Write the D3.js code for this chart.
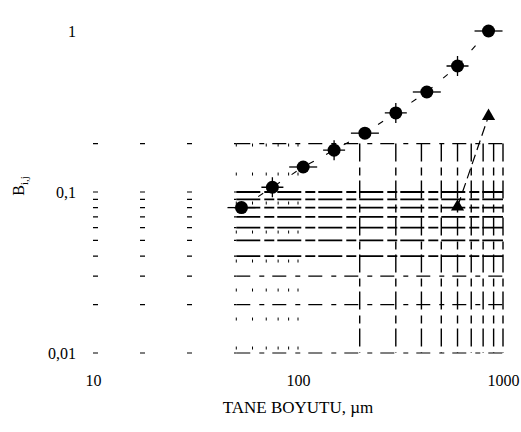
<!DOCTYPE html>
<html>
<head>
<meta charset="utf-8">
<script src="https://cdn.jsdelivr.net/npm/d3@7"></script>
<style>
  body { margin: 0; background: #fff; }
  svg { display: block; font-family: "Liberation Serif", "DejaVu Serif", serif; }
</style>
</head>
<body>
<div id="chart"></div>
<script>
// grain size (µm) and B values
const sizes = [53, 75, 106, 150, 212, 300, 425, 600, 850];
const bValues = [0.080, 0.107, 0.143, 0.182, 0.232, 0.31, 0.418, 0.606, 1.0];
const triSizes = [600, 850];
const triValues = [0.081, 0.296];

const xTicks = [10, 100, 1000];
const xTickLabels = ['10', '100', '1000'];
const yTicks = [0.01, 0.1, 1];
const yTickLabels = ['0,01', '0,1', '1'];

// graph paper lines that survived the scan
const gridX = [10, 20, 30, 40, 50, 60, 70, 80, 90, 100, 200, 300, 400, 500, 600, 700, 800, 900, 1000];
const gridY = [0.01, 0.02, 0.03, 0.04, 0.05, 0.06, 0.07, 0.08, 0.09, 0.1, 0.2];

const svg = d3.select('#chart').append('svg')
  .attr('width', 521)
  .attr('height', 432);

const x = d3.scaleLog().domain([10, 1000]).range([93, 503]);
const y = d3.scaleLog().domain([0.01, 1]).range([353, 31]);

const grid = svg.append('g').attr('stroke', '#000').attr('fill', 'none');

// horizontal lines: barely there on the left, heavy on the right
grid.selectAll('.hl')
  .data(gridY)
  .enter().append('line')
  .attr('x1', x(10)).attr('x2', x(50))
  .attr('y1', d => y(d)).attr('y2', d => y(d))
  .attr('stroke-width', 1.2)
  .attr('stroke-dasharray', '5,42');

grid.selectAll('.hr')
  .data(gridY)
  .enter().append('line')
  .attr('x1', x(50)).attr('x2', x(1000))
  .attr('y1', d => y(d)).attr('y2', d => y(d))
  .attr('stroke-width', d => (d >= 0.04 && d <= 0.1) ? 1.8 : 1.2)
  .attr('stroke-dasharray', d => (d >= 0.04 && d <= 0.1) ? '24,4,10,3' : '14,9,5,8');

// vertical lines
grid.selectAll('.v')
  .data(gridX.filter(d => d >= 50))
  .enter().append('line')
  .attr('x1', d => x(d)).attr('x2', d => x(d))
  .attr('y1', y(0.2)).attr('y2', y(0.01))
  .attr('stroke-width', d => d >= 200 ? 1.4 : 1)
  .attr('stroke-dasharray', d => d >= 200 ? '18,6,8,5' : '3,26');

// axes as bare tick labels
const xAxis = svg.append('g')
  .attr('transform', `translate(0,${y(0.01)})`)
  .call(d3.axisBottom(x).tickValues(xTicks).tickSize(0).tickPadding(22)
    .tickFormat((d, i) => xTickLabels[i]));
xAxis.select('.domain').remove();
xAxis.selectAll('text').style('font-size', '16px').style('font-family', 'Liberation Serif').attr('fill', '#000');

const yAxis = svg.append('g')
  .attr('transform', `translate(${x(10)},0)`)
  .call(d3.axisLeft(y).tickValues(yTicks).tickSize(0).tickPadding(17)
    .tickFormat((d, i) => yTickLabels[i]));
yAxis.select('.domain').remove();
yAxis.selectAll('text').style('font-size', '16px').style('font-family', 'Liberation Serif').attr('fill', '#000');

// connecting lines, only partly visible in the scan
const line = d3.line().x(d => x(d[0])).y(d => y(d[1]));

svg.append('path')
  .datum(d3.zip(sizes, bValues))
  .attr('d', line)
  .attr('fill', 'none')
  .attr('stroke', '#000')
  .attr('stroke-width', 1.1)
  .attr('stroke-dasharray', '6,14');

svg.append('path')
  .datum(d3.zip(triSizes, triValues))
  .attr('d', line)
  .attr('fill', 'none')
  .attr('stroke', '#000')
  .attr('stroke-width', 1.2)
  .attr('stroke-dasharray', '10,5');

// crosshair remnants through the circles
svg.selectAll('.cross')
  .data(d3.zip(sizes, bValues))
  .enter().append('path')
  .attr('d', (d, i) => i % 2 === 0
    ? `M${x(d[0]) - 14},${y(d[1])}h28`
    : `M${x(d[0]) - 11},${y(d[1])}h22M${x(d[0])},${y(d[1]) - 10}v20`)
  .attr('stroke', '#000')
  .attr('stroke-width', 1.3);

svg.selectAll('.dot')
  .data(d3.zip(sizes, bValues))
  .enter().append('circle')
  .attr('cx', d => x(d[0]))
  .attr('cy', d => y(d[1]))
  .attr('r', 6.5)
  .attr('fill', '#000');

svg.selectAll('.tri')
  .data(d3.zip(triSizes, triValues))
  .enter().append('path')
  .attr('transform', d => `translate(${x(d[0])},${y(d[1])})`)
  .attr('d', d3.symbol().type(d3.symbolTriangle).size(75))
  .attr('fill', '#000');

// axis titles
svg.append('text')
  .attr('x', 298)
  .attr('y', 413)
  .attr('text-anchor', 'middle')
  .style('font-size', '17px')
  .text('TANE BOYUTU, µm');

const yt = svg.append('text')
  .attr('transform', 'translate(24,186) rotate(-90)')
  .attr('text-anchor', 'middle')
  .style('font-size', '16px');
yt.append('tspan').text('B');
yt.append('tspan').attr('dy', 4).style('font-size', '11px').text('i,j');
</script>
</body>
</html>
